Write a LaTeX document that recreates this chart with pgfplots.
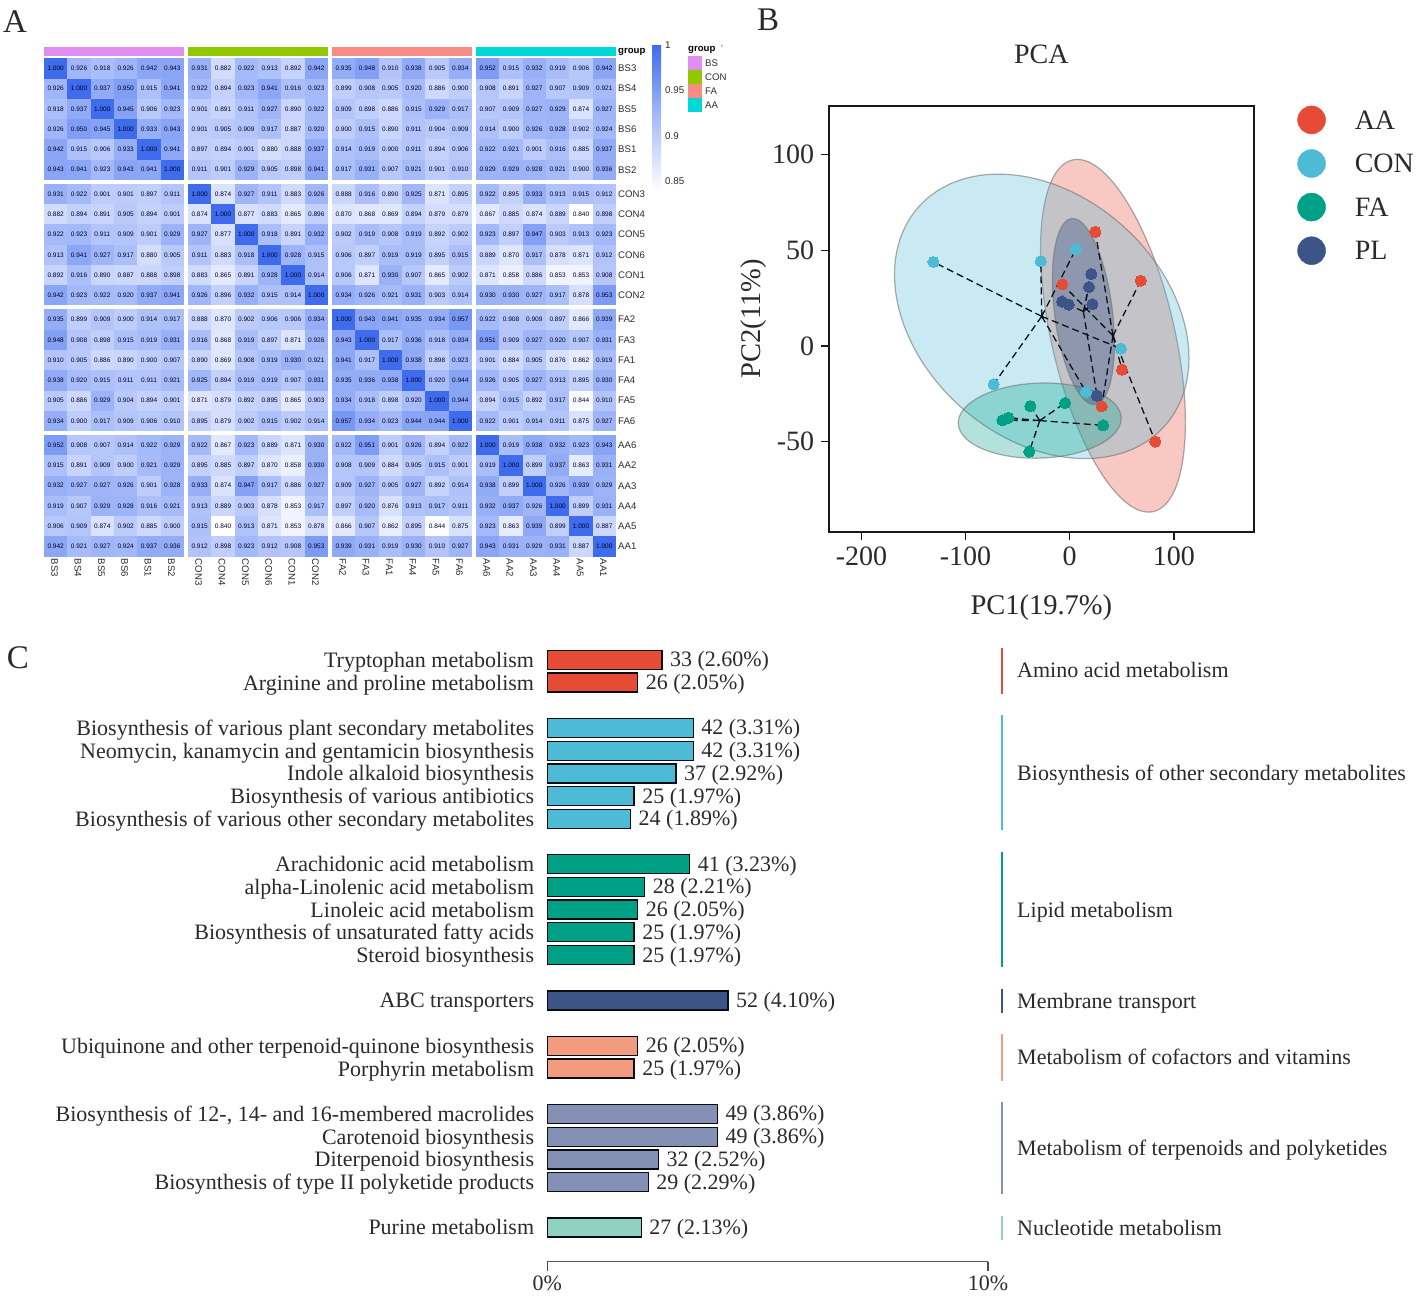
\documentclass[border=0pt]{standalone}
\usepackage{pgfplots}
\usepackage{pgfplotstable}
\usepackage{fontspec}
\pgfplotsset{compat=1.18}
\setmainfont{Liberation Serif}
\newfontfamily\hs{Liberation Sans}
\newcommand{\fs}[1]{\fontsize{#1}{#1}\selectfont}
\definecolor{cAA}{HTML}{E64B35}
\definecolor{cCON}{HTML}{4DBBD5}
\definecolor{cFA}{HTML}{00A087}
\definecolor{cPL}{HTML}{3C5488}
\definecolor{cCof}{HTML}{F39B7F}
\definecolor{cTer}{HTML}{8491B4}
\definecolor{cNuc}{HTML}{91D1C2}
\definecolor{txt}{HTML}{2A2A2A}
\definecolor{gBS}{HTML}{E08EF0}
\definecolor{gCON}{HTML}{92C800}
\definecolor{gFA}{HTML}{F88C84}
\definecolor{gAA}{HTML}{00D8D8}
\pgfdeclareplotmark{cell}{\pgfpathrectangle{\pgfpoint{-11.67pt}{-10.14pt}}{\pgfpoint{23.34pt}{20.28pt}}\pgfusepathqfill}
\pgfplotstableread[row sep=\\,header=false]{
1.000\\0.926\\0.918\\0.926\\0.942\\0.943\\0.931\\0.882\\0.922\\0.913\\0.892\\0.942\\0.935\\0.948\\0.910\\0.938\\0.905\\0.934\\0.952\\0.915\\0.932\\0.919\\0.906\\0.942\\
0.926\\1.000\\0.937\\0.950\\0.915\\0.941\\0.922\\0.894\\0.923\\0.941\\0.916\\0.923\\0.899\\0.908\\0.905\\0.920\\0.886\\0.900\\0.908\\0.891\\0.927\\0.907\\0.909\\0.921\\
0.918\\0.937\\1.000\\0.945\\0.906\\0.923\\0.901\\0.891\\0.911\\0.927\\0.890\\0.922\\0.909\\0.898\\0.886\\0.915\\0.929\\0.917\\0.907\\0.909\\0.927\\0.929\\0.874\\0.927\\
0.926\\0.950\\0.945\\1.000\\0.933\\0.943\\0.901\\0.905\\0.909\\0.917\\0.887\\0.920\\0.900\\0.915\\0.890\\0.911\\0.904\\0.909\\0.914\\0.900\\0.926\\0.928\\0.902\\0.924\\
0.942\\0.915\\0.906\\0.933\\1.000\\0.941\\0.897\\0.894\\0.901\\0.880\\0.888\\0.937\\0.914\\0.919\\0.900\\0.911\\0.894\\0.906\\0.922\\0.921\\0.901\\0.916\\0.885\\0.937\\
0.943\\0.941\\0.923\\0.943\\0.941\\1.000\\0.911\\0.901\\0.929\\0.905\\0.898\\0.941\\0.917\\0.931\\0.907\\0.921\\0.901\\0.910\\0.929\\0.929\\0.928\\0.921\\0.900\\0.936\\
0.931\\0.922\\0.901\\0.901\\0.897\\0.911\\1.000\\0.874\\0.927\\0.911\\0.883\\0.926\\0.888\\0.916\\0.890\\0.925\\0.871\\0.895\\0.922\\0.895\\0.933\\0.913\\0.915\\0.912\\
0.882\\0.894\\0.891\\0.905\\0.894\\0.901\\0.874\\1.000\\0.877\\0.883\\0.865\\0.896\\0.870\\0.868\\0.869\\0.894\\0.879\\0.879\\0.867\\0.885\\0.874\\0.889\\0.840\\0.898\\
0.922\\0.923\\0.911\\0.909\\0.901\\0.929\\0.927\\0.877\\1.000\\0.918\\0.891\\0.932\\0.902\\0.919\\0.908\\0.919\\0.892\\0.902\\0.923\\0.897\\0.947\\0.903\\0.913\\0.923\\
0.913\\0.941\\0.927\\0.917\\0.880\\0.905\\0.911\\0.883\\0.918\\1.000\\0.928\\0.915\\0.906\\0.897\\0.919\\0.919\\0.895\\0.915\\0.889\\0.870\\0.917\\0.878\\0.871\\0.912\\
0.892\\0.916\\0.890\\0.887\\0.888\\0.898\\0.883\\0.865\\0.891\\0.928\\1.000\\0.914\\0.906\\0.871\\0.930\\0.907\\0.865\\0.902\\0.871\\0.858\\0.886\\0.853\\0.853\\0.908\\
0.942\\0.923\\0.922\\0.920\\0.937\\0.941\\0.926\\0.896\\0.932\\0.915\\0.914\\1.000\\0.934\\0.926\\0.921\\0.931\\0.903\\0.914\\0.930\\0.930\\0.927\\0.917\\0.878\\0.953\\
0.935\\0.899\\0.909\\0.900\\0.914\\0.917\\0.888\\0.870\\0.902\\0.906\\0.906\\0.934\\1.000\\0.943\\0.941\\0.935\\0.934\\0.957\\0.922\\0.908\\0.909\\0.897\\0.866\\0.939\\
0.948\\0.908\\0.898\\0.915\\0.919\\0.931\\0.916\\0.868\\0.919\\0.897\\0.871\\0.926\\0.943\\1.000\\0.917\\0.936\\0.918\\0.934\\0.951\\0.909\\0.927\\0.920\\0.907\\0.931\\
0.910\\0.905\\0.886\\0.890\\0.900\\0.907\\0.890\\0.869\\0.908\\0.919\\0.930\\0.921\\0.941\\0.917\\1.000\\0.938\\0.898\\0.923\\0.901\\0.884\\0.905\\0.876\\0.862\\0.919\\
0.938\\0.920\\0.915\\0.911\\0.911\\0.921\\0.925\\0.894\\0.919\\0.919\\0.907\\0.931\\0.935\\0.936\\0.938\\1.000\\0.920\\0.944\\0.926\\0.905\\0.927\\0.913\\0.895\\0.930\\
0.905\\0.886\\0.929\\0.904\\0.894\\0.901\\0.871\\0.879\\0.892\\0.895\\0.865\\0.903\\0.934\\0.918\\0.898\\0.920\\1.000\\0.944\\0.894\\0.915\\0.892\\0.917\\0.844\\0.910\\
0.934\\0.900\\0.917\\0.909\\0.906\\0.910\\0.895\\0.879\\0.902\\0.915\\0.902\\0.914\\0.957\\0.934\\0.923\\0.944\\0.944\\1.000\\0.922\\0.901\\0.914\\0.911\\0.875\\0.927\\
0.952\\0.908\\0.907\\0.914\\0.922\\0.929\\0.922\\0.867\\0.923\\0.889\\0.871\\0.930\\0.922\\0.951\\0.901\\0.926\\0.894\\0.922\\1.000\\0.919\\0.938\\0.932\\0.923\\0.943\\
0.915\\0.891\\0.909\\0.900\\0.921\\0.929\\0.895\\0.885\\0.897\\0.870\\0.858\\0.930\\0.908\\0.909\\0.884\\0.905\\0.915\\0.901\\0.919\\1.000\\0.899\\0.937\\0.863\\0.931\\
0.932\\0.927\\0.927\\0.926\\0.901\\0.928\\0.933\\0.874\\0.947\\0.917\\0.886\\0.927\\0.909\\0.927\\0.905\\0.927\\0.892\\0.914\\0.938\\0.899\\1.000\\0.926\\0.939\\0.929\\
0.919\\0.907\\0.929\\0.928\\0.916\\0.921\\0.913\\0.889\\0.903\\0.878\\0.853\\0.917\\0.897\\0.920\\0.876\\0.913\\0.917\\0.911\\0.932\\0.937\\0.926\\1.000\\0.899\\0.931\\
0.906\\0.909\\0.874\\0.902\\0.885\\0.900\\0.915\\0.840\\0.913\\0.871\\0.853\\0.878\\0.866\\0.907\\0.862\\0.895\\0.844\\0.875\\0.923\\0.863\\0.939\\0.899\\1.000\\0.887\\
0.942\\0.921\\0.927\\0.924\\0.937\\0.936\\0.912\\0.898\\0.923\\0.912\\0.908\\0.953\\0.939\\0.931\\0.919\\0.930\\0.910\\0.927\\0.943\\0.931\\0.929\\0.931\\0.887\\1.000\\
}\heat
\begin{document}
\begin{tikzpicture}
\path[use as bounding box] (0pt,0pt) rectangle (1417pt,1300pt);

% ---------- A: heat map
\begin{axis}[name=heat,at={(44pt,743.3pt)},anchor=south west,scale only axis,width=572pt,height=498.4pt,
  clip=false,xmin=-0.5,xmax=24.0142,ymin=-0.5,ymax=24.0926,
  axis line style={draw=none},tick style={draw=none},
  colormap={hm}{rgb255(0cm)=(255,255,255);rgb255(1cm)=(168,188,249);rgb255(2cm)=(62,108,236)},
  point meta min=0.84,point meta max=1,
  declare function={rowi(\i)=floor((\i+0.5)/24);coli(\i)=\i-24*floor((\i+0.5)/24);},
  xtick={0,1,2,3,4,5,6.1714,7.1714,8.1714,9.1714,10.1714,11.1714,12.3428,13.3428,14.3428,15.3428,16.3428,17.3428,18.5142,19.5142,20.5142,21.5142,22.5142,23.5142},
  xticklabels={BS3,BS4,BS5,BS6,BS1,BS2,CON3,CON4,CON5,CON6,CON1,CON2,FA2,FA3,FA1,FA4,FA5,FA6,AA6,AA2,AA3,AA4,AA5,AA1},
  ytick={23.5926,22.5926,21.5926,20.5926,19.5926,18.5926,17.3951,16.3951,15.3951,14.3951,13.3951,12.3951,11.1976,10.1976,9.1976,8.1976,7.1976,6.1976,5,4,3,2,1,0},
  yticklabels={BS3,BS4,BS5,BS6,BS1,BS2,CON3,CON4,CON5,CON6,CON1,CON2,FA2,FA3,FA1,FA4,FA5,FA6,AA6,AA2,AA3,AA4,AA5,AA1},
  xticklabel pos=bottom,yticklabel pos=right,
  xticklabel style={font=\hs\fs{9.6},text=txt,rotate=-90,anchor=west,inner sep=0pt,xshift=2pt,yshift=-1pt},
  yticklabel style={font=\hs\fs{9.6},text=txt,anchor=west,inner sep=0pt,xshift=2pt},
  major tick length=2pt,
  colorbar,
  colorbar style={at={(1.063,1.0267)},anchor=north west,width=9pt,height=145.6pt,
    ytick={0.85,0.9,0.95,1},yticklabels={0.85,0.9,0.95,1},ytick pos=right,yticklabel pos=right,
    axis line style={draw=none},tick style={draw=none},
    yticklabel style={font=\hs\fs{9.8},text=txt,anchor=west,inner sep=0pt,xshift=4pt}},
  ]
\addplot[scatter,only marks,mark=cell,scatter src=explicit]
  table[x index=0,y index=0,x expr={coli(\coordindex)+0.1714*floor((coli(\coordindex)+0.5)/6)},
        y expr={23.5926-rowi(\coordindex)-0.1975*floor((rowi(\coordindex)+0.5)/6)},
        meta index=0] \heat;
\addplot[only marks,mark=none,point meta=explicit,
  nodes near coords,
  /pgf/number format/fixed,/pgf/number format/fixed zerofill,/pgf/number format/precision=3,/pgf/number format/assume math mode=true,
  nodes near coords style={anchor=center,inner sep=0pt,font=\hs\fs{6.5},text=black!85!blue}]
  table[x index=0,y index=0,x expr={coli(\coordindex)+0.1714*floor((coli(\coordindex)+0.5)/6)},
        y expr={23.5926-rowi(\coordindex)-0.1975*floor((rowi(\coordindex)+0.5)/6)},
        meta index=0] \heat;
\end{axis}

% ---------- B: PCA
\begin{axis}[name=pca,at={(828.7pt,768.3pt)},anchor=south west,scale only axis,width=425.3pt,height=425.7pt,
  xmin=-231.4,xmax=176.9,ymin=-97.05,ymax=125.4,
  clip=true,
  axis line style={line width=1.8pt,color=black!90},
  xtick={-200,-100,0,100},ytick={-50,0,50,100},
  xtick pos=bottom,ytick pos=left,tick align=outside,major tick length=8pt,
  tick style={line width=1.5pt,color=black!90},
  /pgf/number format/assume math mode=true,
  ticklabel style={font=\fs{28},text=txt},
  xticklabel style={yshift=-3.5pt},
  yticklabel style={xshift=-3pt},
  title={PCA},title style={font=\fs{28},text=txt,at={(0.5,1)},yshift=33pt},
  xlabel={PC1(19.7\%)},xlabel style={font=\fs{28.5},text=txt,yshift=-22.5pt},
  ylabel={PC2(11\%)},ylabel style={font=\fs{28.5},text=txt,yshift=-1pt},
  legend style={at={(1.1015,1.019)},anchor=north west,draw=none,fill=none,font=\fs{28},text=txt,
     row sep=0pt,inner sep=0pt,nodes={inner sep=0pt,minimum height=43.6pt,text depth=0pt},cells={anchor=west}},
  legend cell align=left,
  ]
\addlegendimage{legend image code/.code={\fill[cAA] (15.5pt,0) circle (14pt);}}
\addlegendentry{\hspace{29pt}AA}
\addlegendimage{legend image code/.code={\fill[cCON] (15.5pt,0) circle (14pt);}}
\addlegendentry{\hspace{29pt}CON}
\addlegendimage{legend image code/.code={\fill[cFA] (15.5pt,0) circle (14pt);}}
\addlegendentry{\hspace{29pt}FA}
\addlegendimage{legend image code/.code={\fill[cPL] (15.5pt,0) circle (14pt);}}
\addlegendentry{\hspace{29pt}PL}
\tikzset{ell/.style={line width=1.2pt,draw=black!55,draw opacity=.6,fill opacity=.3}}
\path[ell,fill=cAA,rotate around={12.96:(axis cs:41.5,5.33)}] (axis cs:41.5,5.33) ellipse [x radius=61.6pt,y radius=180.4pt];
\path[ell,fill=cCON,rotate around={48.36:(axis cs:-26.9,15.47)}] (axis cs:-26.9,15.47) ellipse [x radius=121.5pt,y radius=164.7pt];
\path[ell,fill=cFA,rotate around={2:(axis cs:-28.8,-39)}] (axis cs:-28.8,-39) ellipse [x radius=81.5pt,y radius=37.5pt];
\path[ell,fill=cPL,fill opacity=.4,rotate around={7.24:(axis cs:13.1,18)}] (axis cs:13.1,18) ellipse [x radius=28.9pt,y radius=93.7pt];
\pgfplotsset{star/.style={forget plot,no marks,line width=1.3pt,color=black!80!cPL,dash pattern=on 7pt off 4pt,unbounded coords=jump}}
\addplot[star] coordinates {(41.5,5.33)(24.6,59.6) (nan,nan) (41.5,5.33)(-7.1,32.2) (nan,nan) (41.5,5.33)(68.2,34.1) (nan,nan) (41.5,5.33)(50.2,-12.4) (nan,nan) (41.5,5.33)(30.7,-31.5) (nan,nan) (41.5,5.33)(82.2,-50.0)};
\addplot[star] coordinates {(-26.9,15.47)(-130.9,43.9) (nan,nan) (-26.9,15.47)(-27.8,44.3) (nan,nan) (-26.9,15.47)(5.8,50.5) (nan,nan) (-26.9,15.47)(49.2,-1.4) (nan,nan) (-26.9,15.47)(15.6,-24.0) (nan,nan) (-26.9,15.47)(-73.0,-20.0)};
\addplot[star] coordinates {(-28.8,-39)(-37.8,-31.4) (nan,nan) (-28.8,-39)(-4.5,-29.8) (nan,nan) (-28.8,-39)(-58.9,-37.5) (nan,nan) (-28.8,-39)(-64.7,-38.8) (nan,nan) (-28.8,-39)(32.0,-41.5) (nan,nan) (-28.8,-39)(-38.8,-55.2)};
\addplot[star] coordinates {(13.1,18)(20.7,37.6) (nan,nan) (13.1,18)(18.5,30.8) (nan,nan) (13.1,18)(-7.4,23.2) (nan,nan) (13.1,18)(-1.0,21.6) (nan,nan) (13.1,18)(21.7,21.8) (nan,nan) (13.1,18)(26.2,-26.0)};
\pgfplotsset{pts/.style={forget plot,only marks,mark=*,mark size=5.6pt,draw=#1,fill=#1,mark options={draw=#1,fill=#1,line width=0pt}}}
\addplot[pts=cAA] coordinates {(24.6,59.6)(-7.1,32.2)(68.2,34.1)(50.2,-12.4)(30.7,-31.5)(82.2,-50.0)};
\addplot[pts=cCON] coordinates {(-130.9,43.9)(-27.8,44.3)(5.8,50.5)(49.2,-1.4)(15.6,-24.0)(-73.0,-20.0)};
\addplot[pts=cFA] coordinates {(-37.8,-31.4)(-4.5,-29.8)(-58.9,-37.5)(-64.7,-38.8)(32.0,-41.5)(-38.8,-55.2)};
\addplot[pts=cPL] coordinates {(20.7,37.6)(18.5,30.8)(-7.4,23.2)(-1.0,21.6)(21.7,21.8)(26.2,-26.0)};
\end{axis}

% ---------- C: enrichment bars
\begin{axis}[name=bars,at={(547.3pt,38.3pt)},anchor=south west,scale only axis,width=440.7pt,height=617.7pt,
  xmin=0,xmax=10,ymin=-1.5066,ymax=25.7,clip=false,
  axis x line=bottom,axis y line=left,
  x axis line style={-,line width=1.5pt,color=black!65},
  y axis line style={draw=none},
  xtick={0,10},xticklabels={0\%,10\%},
  x tick style={line width=1.3pt,color=black!70},y tick style={draw=none},
  tick align=outside,
  xtick pos=bottom,major tick length=9pt,
  xticklabel style={font=\fs{22},text=txt,yshift=-2pt},
  ytick={25,24,22,21,20,19,18,16,15,14,13,12,10,8,7,5,4,3,2,0},
  yticklabels={Tryptophan metabolism,Arginine and proline metabolism,Biosynthesis of various plant secondary metabolites,{Neomycin, kanamycin and gentamicin biosynthesis},Indole alkaloid biosynthesis,Biosynthesis of various antibiotics,Biosynthesis of various other secondary metabolites,Arachidonic acid metabolism,alpha-Linolenic acid metabolism,Linoleic acid metabolism,Biosynthesis of unsaturated fatty acids,Steroid biosynthesis,ABC transporters,Ubiquinone and other terpenoid-quinone biosynthesis,Porphyrin metabolism,{Biosynthesis of 12-, 14- and 16-membered macrolides},Carotenoid biosynthesis,Diterpenoid biosynthesis,Biosynthesis of type II polyketide products,Purine metabolism},
  yticklabel style={font=\fs{22},text=txt,inner sep=0pt,xshift=-4pt,yshift=-7.5pt,anchor=base east},
  every axis plot/.append style={xbar,bar width=19pt,bar shift=0pt,line width=1.3pt,draw=black!85!cPL},
  point meta=explicit symbolic,
  nodes near coords,
  nodes near coords align=horizontal,
  nodes near coords style={font=\fs{22},text=txt,inner sep=0pt,xshift=7.5pt,yshift=-7pt,anchor=base west},
  ]
\addplot[fill=cAA] coordinates {(2.60,25)[33 (2.60\%)] (2.05,24)[26 (2.05\%)]};
\addplot[fill=cCON] coordinates {(3.31,22)[42 (3.31\%)] (3.31,21)[42 (3.31\%)] (2.92,20)[37 (2.92\%)] (1.97,19)[25 (1.97\%)] (1.89,18)[24 (1.89\%)]};
\addplot[fill=cFA] coordinates {(3.23,16)[41 (3.23\%)] (2.21,15)[28 (2.21\%)] (2.05,14)[26 (2.05\%)] (1.97,13)[25 (1.97\%)] (1.97,12)[25 (1.97\%)]};
\addplot[fill=cPL] coordinates {(4.10,10)[52 (4.10\%)]};
\addplot[fill=cCof] coordinates {(2.05,8)[26 (2.05\%)] (1.97,7)[25 (1.97\%)]};
\addplot[fill=cTer] coordinates {(3.86,5)[49 (3.86\%)] (3.86,4)[49 (3.86\%)] (2.52,3)[32 (2.52\%)] (2.29,2)[29 (2.29\%)]};
\addplot[fill=cNuc] coordinates {(2.13,0)[27 (2.13\%)]};
\end{axis}

% ---------- annotations in picture pixels
\begin{scope}[x=1pt,y=-1pt,shift={(0pt,1300pt)}]
\fill[gBS] (44,46.7) rectangle (184,56);
\fill[gCON] (187.7,46.7) rectangle (327.5,56);
\fill[gFA] (331.7,46.7) rectangle (471.7,56);
\fill[gAA] (475.7,46.7) rectangle (615.7,56);
\node[anchor=west,inner sep=0pt,font=\hs\bfseries\fs{9.6},text=black] at (618,51.5) {group};
\node[anchor=west,inner sep=0pt,font=\hs\bfseries\fs{9.6},text=black] at (688,50) {group};
\node[inner sep=0pt,font=\hs\fs{9},text=black!70] at (722,48) {'};
\fill[gBS] (688,56) rectangle (702,70);
\fill[gCON] (688,70) rectangle (702,84);
\fill[gFA] (688,84) rectangle (702,98);
\fill[gAA] (688,98) rectangle (702,112);
\begin{scope}
\clip (703,50) rectangle (725,115);
\node[anchor=west,inner sep=0pt,font=\hs\fs{9.6},text=txt] at (705,63.5) {BS};
\node[anchor=west,inner sep=0pt,font=\hs\fs{9.6},text=txt] at (705,77.5) {CON};
\node[anchor=west,inner sep=0pt,font=\hs\fs{9.6},text=txt] at (705,91.5) {FA};
\node[anchor=west,inner sep=0pt,font=\hs\fs{9.6},text=txt] at (705,105.5) {AA};
\end{scope}
\node[font=\fs{33},text=txt,inner sep=0pt] at (15,22) {A};
\node[font=\fs{33},text=txt,inner sep=0pt] at (768,20) {B};
\node[font=\fs{33},text=txt,inner sep=0pt] at (18,658) {C};
\foreach \ya/\yb/\col/\lab/\yt in {
  648/694/cAA/{Amino acid metabolism}/678,
  715/830/cCON/{Biosynthesis of other secondary metabolites}/781,
  852/967/cFA/{Lipid metabolism}/918,
  989/1013/cPL/{Membrane transport}/1009,
  1034/1081/cCof/{Metabolism of cofactors and vitamins}/1065,
  1102/1194/cTer/{Metabolism of terpenoids and polyketides}/1156,
  1216/1240/cNuc/{Nucleotide metabolism}/1236}{
  \draw[\col,line width=2.4pt] (1002,\ya) -- (1002,\yb);
  \node[anchor=base west,inner sep=0pt,font=\fs{22},text=txt] at (1017,\yt) {\lab};
}
\end{scope}
\end{tikzpicture}
\end{document}
